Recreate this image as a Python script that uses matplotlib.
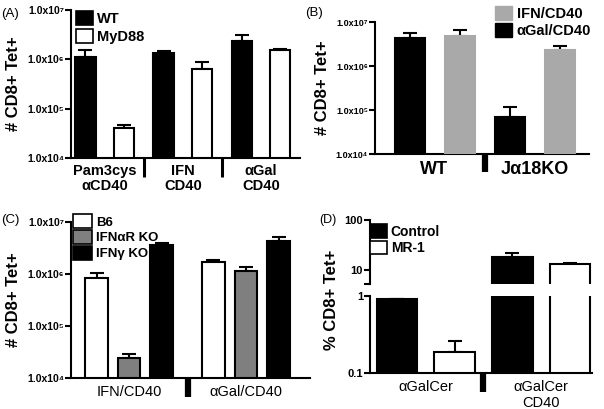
import matplotlib
matplotlib.use("Agg")
import matplotlib.pyplot as plt
import matplotlib.transforms as mtransforms
from matplotlib.patches import Patch
import numpy as np

plt.rcParams['font.family'] = ['Liberation Sans', 'DejaVu Sans']
plt.rcParams['axes.linewidth'] = 1.5

# panel A
groups_a = ["Pam3cys\nαCD40", "IFN\nCD40", "αGal\nCD40"]
wt_a = [1.1e6, 1.36e6, 2.4e6]
wt_a_err = [0.45e6, 0.12e6, 0.76e6]
myd_a = [4.1e4, 6.4e5, 1.55e6]
myd_a_err = [0.5e4, 2.5e5, 0.05e6]

# panel B
groups_b = ["WT", "Jα18KO"]
agal_b = [4.3e6, 6.8e4]
agal_b_err = [1.3e6, 5.1e4]
ifn_b = [4.7e6, 2.35e6]
ifn_b_err = [2.0e6, 0.55e6]

# panel C
groups_c = ["IFN/CD40", "αGal/CD40"]
b6_c = [8.4e5, 1.7e6]
b6_c_err = [0.21e6, 0.13e6]
ifnar_c = [2.4e4, 1.13e6]
ifnar_c_err = [0.5e4, 0.24e6]
ifng_c = [3.66e6, 4.25e6]
ifng_c_err = [0.34e6, 0.9e6]

# panel D
groups_d = ["αGalCer", "αGalCer\nCD40"]
control_d = [0.92, 17.9]
control_d_err = [0.0, 3.6]
mr1_d = [0.19, 13.2]
mr1_d_err = [0.07, 0.4]

log_ticks = [1e4, 1e5, 1e6, 1e7]
log_labels = ["1.0x10⁴", "1.0x10⁵", "1.0x10⁶", "1.0x10⁷"]

W, H = 604, 409
fig = plt.figure(figsize=(W / 100, H / 100), dpi=100)


def add_ax(left, right, top, bottom):
    return fig.add_axes([left / W, 1 - bottom / H, (right - left) / W, (bottom - top) / H])


def style(ax, bottom_spine=True):
    ax.spines['top'].set_visible(False)
    ax.spines['right'].set_visible(False)
    if not bottom_spine:
        ax.spines['bottom'].set_visible(False)
    ax.minorticks_off()
    ax.tick_params(axis='y', which='both', length=4, width=1.5, pad=1)
    ax.tick_params(axis='x', length=0)


def bars(ax, x, vals, errs, color, width, edge='black', bottom=1e4):
    ax.bar(x, np.array(vals) - bottom, bottom=bottom, width=width, color=color,
           edgecolor=edge, linewidth=1.5, zorder=3)
    ax.errorbar(x, vals, yerr=[np.zeros(len(errs)), errs], fmt='none', ecolor='black',
                elinewidth=1.5, capsize=5, capthick=1.5, zorder=2)


def separators(ax, xs, length, lw):
    trans = mtransforms.blended_transform_factory(ax.transData, ax.transAxes)
    for xv in xs:
        ax.plot([xv, xv], [0, -length], color='black', lw=lw, transform=trans,
                clip_on=False, solid_capstyle='butt')


def legend(ax, handles, labels, anchor, fs, hl=1.2, hh=1.1, ls=0.15):
    ax.legend(handles, labels, loc='upper left', bbox_to_anchor=anchor, frameon=False,
              handlelength=hl, handleheight=hh, handletextpad=0.3, labelspacing=ls,
              borderpad=0, borderaxespad=0, prop={'weight': 'bold', 'size': fs})


# ---- A ----
ax = add_ax(71, 300, 10, 158)
xa = np.arange(len(groups_a))
ax.set_yscale('log')
bars(ax, xa - 0.245, wt_a, wt_a_err, 'black', 0.26)
bars(ax, xa + 0.245, myd_a, myd_a_err, 'white', 0.26)
ax.set_ylim(1e4, 1e7)
ax.set_xlim(-0.43, 2.5)
ax.set_yticks(log_ticks)
ax.set_yticklabels(log_labels, fontsize=7.5, fontweight='bold')
ax.set_xticks(xa)
ax.set_xticklabels(groups_a, fontsize=10.5, fontweight='bold', linespacing=1.1)
ax.tick_params(axis='x', pad=4)
style(ax)
separators(ax, xa[:-1] + 0.5, 0.13, 2.2)
ax.set_ylabel("# CD8+ Tet+", fontsize=12, fontweight='bold', labelpad=4)
legend(ax, [Patch(fc='black', ec='black', lw=1.2), Patch(fc='white', ec='black', lw=1.2)],
       ["WT", "MyD88"], (0.02, 0.99), 10.5)
fig.text(1 / W, 1 - 14 / H, "(A)", fontsize=9.5, va='center')

# ---- B ----
ax = add_ax(375, 589, 22, 154)
xb = np.arange(len(groups_b))
ax.set_yscale('log')
bars(ax, xb - 0.25, agal_b, agal_b_err, 'black', 0.3)
bars(ax, xb + 0.25, ifn_b, ifn_b_err, '#a9a9a9', 0.3, edge='#a9a9a9')
ax.set_ylim(1e4, 1e7)
ax.set_xlim(-0.595, 1.545)
ax.set_yticks(log_ticks)
ax.set_yticklabels(log_labels, fontsize=6.5, fontweight='bold')
ax.set_xticks(xb)
ax.set_xticklabels(groups_b, fontsize=13, fontweight='bold')
ax.tick_params(axis='x', pad=5)
style(ax)
separators(ax, xb[:-1] + 0.5, 0.14, 4.5)
ax.set_ylabel("# CD8+ Tet+", fontsize=12, fontweight='bold', labelpad=4)
legend(ax, [Patch(fc='#a9a9a9', ec='#a9a9a9'), Patch(fc='black', ec='black')],
       ["IFN/CD40", "αGal/CD40"], (0.56, 1.12), 10.5)
fig.text(305 / W, 1 - 13 / H, "(B)", fontsize=9.5, va='center')

# ---- C ----
ax = add_ax(71, 310, 222, 378)
xc = np.arange(len(groups_c))
ax.set_yscale('log')
bars(ax, xc - 0.278, b6_c, b6_c_err, 'white', 0.19)
bars(ax, xc, ifnar_c, ifnar_c_err, '#7f7f7f', 0.19)
bars(ax, xc + 0.278, ifng_c, ifng_c_err, 'black', 0.19)
ax.set_ylim(1e4, 1e7)
ax.set_xlim(-0.496, 1.547)
ax.set_yticks(log_ticks)
ax.set_yticklabels(log_labels, fontsize=7.5, fontweight='bold')
ax.set_xticks(xc)
ax.set_xticklabels(groups_c, fontsize=10.5)
ax.tick_params(axis='x', pad=5)
style(ax)
separators(ax, xc[:-1] + 0.5, 0.12, 4.5)
ax.set_ylabel("# CD8+ Tet+", fontsize=12, fontweight='bold', labelpad=4)
legend(ax, [Patch(fc='white', ec='black', lw=1.2), Patch(fc='#7f7f7f', ec='black', lw=1.2),
            Patch(fc='black', ec='black', lw=1.2)],
       ["B6", "IFNαR KO", "IFNγ KO"], (0.01, 1.05), 9.5, hl=1.4, hh=1.25, ls=0.1)
fig.text(1 / W, 1 - 220 / H, "(C)", fontsize=9.5, va='center')

# ---- D (broken axis) ----
xd = np.arange(len(groups_d))
ax_hi = add_ax(370, 592, 220, 284)
ax_lo = add_ax(370, 592, 296, 373)
for a in (ax_hi, ax_lo):
    a.set_yscale('log')
    bars(a, xd - 0.249, control_d, control_d_err, 'black', 0.35, bottom=0.1)
    bars(a, xd + 0.249, mr1_d, mr1_d_err, 'white', 0.35, bottom=0.1)
    a.set_xlim(-0.483, 1.44)
ax_hi.set_ylim(5.25, 100)
ax_hi.set_yticks([5.25, 10, 100])
ax_hi.set_yticklabels(["", "10", "100"], fontsize=8, fontweight='bold')
ax_hi.set_xticks([])
style(ax_hi, bottom_spine=False)
ax_lo.set_ylim(0.1, 1)
ax_lo.set_yticks([0.1, 1])
ax_lo.set_yticklabels(["0.1", "1"], fontsize=8, fontweight='bold')
ax_lo.set_xticks(xd)
ax_lo.set_xticklabels(groups_d, fontsize=10.5)
ax_lo.tick_params(axis='x', pad=5)
style(ax_lo)
separators(ax_lo, xd[:-1] + 0.5, 0.25, 4.5)
fig.text(332 / W, 1 - 300 / H, "% CD8+ Tet+", fontsize=12, fontweight='bold',
         rotation=90, ha='center', va='center')
legend(ax_hi, [Patch(fc='black', ec='black', lw=1.2), Patch(fc='white', ec='black', lw=1.2)],
       ["Control", "MR-1"], (0.0, 0.93), 10)
fig.text(319 / W, 1 - 220 / H, "(D)", fontsize=9, va='center')

fig.savefig("out.png", dpi=100)
